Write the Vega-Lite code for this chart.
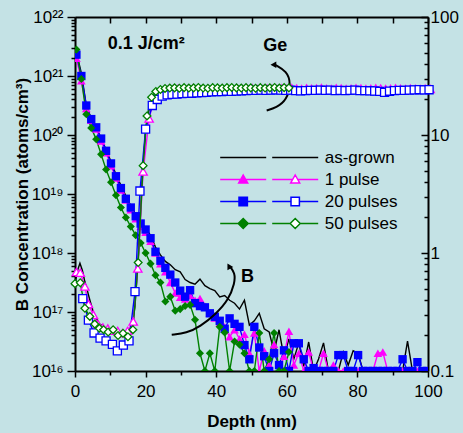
{
"$schema":"https://vega.github.io/schema/vega-lite/v6.json",
"width":353,"height":354,
"autosize":"none",
"padding":{"left":75,"top":17,"right":35,"bottom":62},
"background":"#c4e2e5",
"config":{"view":{"stroke":null},"font":"Liberation Sans",
"axis":{"labelFont":"Liberation Sans","titleFont":"Liberation Sans","labelColor":"black","titleColor":"black","domainColor":"black","tickColor":"black","domainWidth":2,"tickWidth":1.5,"grid":false,"labelFontSize":17,"titleFontSize":17,"labelOverlap":false,"labelFlush":false,"labelBound":false},
"legend":{"labelFont":"Liberation Sans","labelFontSize":17,"labelColor":"black"}},
"datasets":{
"B":[
{"s":"as-grown","d":0.4,"b":2.5e21},{"s":"as-grown","d":1.8,"b":1.12e21},{"s":"as-grown","d":3.2,"b":3.16e20},{"s":"as-grown","d":4.6,"b":1.9e20},{"s":"as-grown","d":6.0,"b":1.32e20},{"s":"as-grown","d":7.4,"b":8.9e19},{"s":"as-grown","d":8.8,"b":5.6e19},{"s":"as-grown","d":10.2,"b":3.55e19},{"s":"as-grown","d":11.6,"b":2.14e19},{"s":"as-grown","d":13.0,"b":1.41e19},{"s":"as-grown","d":14.4,"b":9.3e18},{"s":"as-grown","d":15.8,"b":6.3e18},{"s":"as-grown","d":17.2,"b":4.47e18},{"s":"as-grown","d":18.6,"b":3.3e18},{"s":"as-grown","d":20.0,"b":2.63e18},{"s":"as-grown","d":21.4,"b":2.0e18},{"s":"as-grown","d":22.8,"b":1.26e18},{"s":"as-grown","d":24.2,"b":9.3e17},{"s":"as-grown","d":25.6,"b":7.2e17},{"s":"as-grown","d":27.0,"b":6.3e17},{"s":"as-grown","d":28.4,"b":5.2e17},{"s":"as-grown","d":29.8,"b":4.8e17},{"s":"as-grown","d":31.2,"b":3.55e17},{"s":"as-grown","d":32.6,"b":3.16e17},{"s":"as-grown","d":34.0,"b":2.95e17},{"s":"as-grown","d":35.4,"b":3.6e17},{"s":"as-grown","d":36.8,"b":2.8e17},{"s":"as-grown","d":38.2,"b":2.5e17},{"s":"as-grown","d":39.6,"b":2.3e17},{"s":"as-grown","d":41.0,"b":1.8e17},{"s":"as-grown","d":42.4,"b":1.9e17},{"s":"as-grown","d":43.8,"b":1.58e17},{"s":"as-grown","d":45.2,"b":1.41e17},{"s":"as-grown","d":46.6,"b":1.12e17},{"s":"as-grown","d":48.0,"b":1.58e17},{"s":"as-grown","d":49.4,"b":6.0e16},{"s":"as-grown","d":50.8,"b":7.1e16},{"s":"as-grown","d":52.2,"b":9.5e16},{"s":"as-grown","d":53.6,"b":5.2e16},{"s":"as-grown","d":55.0,"b":4.6e16},{"s":"as-grown","d":56.4,"b":2.1e16},{"s":"as-grown","d":57.8,"b":5.0e16},{"s":"as-grown","d":59.2,"b":1.7e16},{"s":"as-grown","d":60.6,"b":3.5e16},{"s":"as-grown","d":62.0,"b":1.6e16},{"s":"as-grown","d":63.4,"b":3.0e16},{"s":"as-grown","d":64.8,"b":1.2e16},{"s":"as-grown","d":66.2,"b":3.1e16},{"s":"as-grown","d":67.6,"b":1e16},{"s":"as-grown","d":69.0,"b":1.6e16},{"s":"as-grown","d":70.4,"b":3.0e16},{"s":"as-grown","d":71.8,"b":1e16},{"s":"as-grown","d":73.2,"b":1e16},{"s":"as-grown","d":74.6,"b":1e16},{"s":"as-grown","d":76.0,"b":2.1e16},{"s":"as-grown","d":77.4,"b":1.26e16},{"s":"as-grown","d":78.8,"b":2.2e16},{"s":"as-grown","d":80.2,"b":2.0e16},{"s":"as-grown","d":81.6,"b":1e16},{"s":"as-grown","d":83.0,"b":1e16},{"s":"as-grown","d":84.4,"b":1e16},{"s":"as-grown","d":85.8,"b":1e16},{"s":"as-grown","d":87.2,"b":1e16},{"s":"as-grown","d":88.6,"b":1e16},{"s":"as-grown","d":90.0,"b":1e16},{"s":"as-grown","d":91.4,"b":1e16},{"s":"as-grown","d":92.8,"b":1e16},{"s":"as-grown","d":94.2,"b":3.2e16},{"s":"as-grown","d":95.6,"b":1e16},{"s":"as-grown","d":97.0,"b":1e16},{"s":"as-grown","d":98.4,"b":1e16},{"s":"as-grown","d":99.8,"b":1e16},
{"s":"1 pulse","d":0.4,"b":2.0e21},{"s":"1 pulse","d":1.8,"b":8.3e20},{"s":"1 pulse","d":3.2,"b":2.8e20},{"s":"1 pulse","d":4.6,"b":1.78e20},{"s":"1 pulse","d":6.0,"b":1.26e20},{"s":"1 pulse","d":7.4,"b":7.9e19},{"s":"1 pulse","d":8.8,"b":5.0e19},{"s":"1 pulse","d":10.2,"b":3.0e19},{"s":"1 pulse","d":11.6,"b":1.86e19},{"s":"1 pulse","d":13.0,"b":1.17e19},{"s":"1 pulse","d":14.4,"b":7.9e18},{"s":"1 pulse","d":15.8,"b":5.4e18},{"s":"1 pulse","d":17.2,"b":3.8e18},{"s":"1 pulse","d":18.6,"b":2.8e18},{"s":"1 pulse","d":20.0,"b":2.24e18},{"s":"1 pulse","d":21.4,"b":1.58e18},{"s":"1 pulse","d":22.8,"b":1.0e18},{"s":"1 pulse","d":24.2,"b":6.6e17},{"s":"1 pulse","d":25.6,"b":4.8e17},{"s":"1 pulse","d":27.0,"b":3.16e17},{"s":"1 pulse","d":28.4,"b":2.1e17},{"s":"1 pulse","d":29.8,"b":1.78e17},{"s":"1 pulse","d":31.2,"b":1.66e17},{"s":"1 pulse","d":32.6,"b":1.9e17},{"s":"1 pulse","d":34.0,"b":1.58e17},{"s":"1 pulse","d":35.4,"b":1.7e17},{"s":"1 pulse","d":36.8,"b":1.26e17},{"s":"1 pulse","d":38.2,"b":9.5e16},{"s":"1 pulse","d":39.6,"b":7.9e16},{"s":"1 pulse","d":41.0,"b":6.5e16},{"s":"1 pulse","d":42.4,"b":5.6e16},{"s":"1 pulse","d":43.8,"b":3.8e16},{"s":"1 pulse","d":45.2,"b":5.0e16},{"s":"1 pulse","d":46.6,"b":3.5e16},{"s":"1 pulse","d":48.0,"b":4.2e16},{"s":"1 pulse","d":49.4,"b":2.0e16},{"s":"1 pulse","d":50.8,"b":4.4e16},{"s":"1 pulse","d":52.2,"b":1e16},{"s":"1 pulse","d":53.6,"b":2.2e16},{"s":"1 pulse","d":55.0,"b":1.26e16},{"s":"1 pulse","d":56.4,"b":2.8e16},{"s":"1 pulse","d":57.8,"b":1e16},{"s":"1 pulse","d":59.2,"b":1.78e16},{"s":"1 pulse","d":60.6,"b":4.7e16},{"s":"1 pulse","d":62.0,"b":1.26e16},{"s":"1 pulse","d":63.4,"b":2.0e16},{"s":"1 pulse","d":64.8,"b":1e16},{"s":"1 pulse","d":66.2,"b":2.1e16},{"s":"1 pulse","d":67.6,"b":1e16},{"s":"1 pulse","d":69.0,"b":1e16},{"s":"1 pulse","d":70.4,"b":2.0e16},{"s":"1 pulse","d":71.8,"b":1e16},{"s":"1 pulse","d":73.2,"b":1.26e16},{"s":"1 pulse","d":74.6,"b":1e16},{"s":"1 pulse","d":76.0,"b":1e16},{"s":"1 pulse","d":77.4,"b":1e16},{"s":"1 pulse","d":78.8,"b":1e16},{"s":"1 pulse","d":80.2,"b":1e16},{"s":"1 pulse","d":81.6,"b":1e16},{"s":"1 pulse","d":83.0,"b":1e16},{"s":"1 pulse","d":84.4,"b":1e16},{"s":"1 pulse","d":85.8,"b":2.0e16},{"s":"1 pulse","d":87.2,"b":2.1e16},{"s":"1 pulse","d":88.6,"b":1e16},{"s":"1 pulse","d":90.0,"b":1e16},{"s":"1 pulse","d":91.4,"b":1e16},{"s":"1 pulse","d":92.8,"b":1e16},{"s":"1 pulse","d":94.2,"b":1e16},{"s":"1 pulse","d":95.6,"b":1e16},{"s":"1 pulse","d":97.0,"b":1e16},{"s":"1 pulse","d":98.4,"b":1e16},{"s":"1 pulse","d":99.8,"b":1e16},
{"s":"20 pulses","d":0.4,"b":2.3e21},{"s":"20 pulses","d":1.8,"b":1.0e21},{"s":"20 pulses","d":3.2,"b":3.16e20},{"s":"20 pulses","d":4.6,"b":1.86e20},{"s":"20 pulses","d":6.0,"b":1.35e20},{"s":"20 pulses","d":7.4,"b":8.7e19},{"s":"20 pulses","d":8.8,"b":5.4e19},{"s":"20 pulses","d":10.2,"b":3.3e19},{"s":"20 pulses","d":11.6,"b":2.0e19},{"s":"20 pulses","d":13.0,"b":1.26e19},{"s":"20 pulses","d":14.4,"b":8.3e18},{"s":"20 pulses","d":15.8,"b":5.9e18},{"s":"20 pulses","d":17.2,"b":4.2e18},{"s":"20 pulses","d":18.6,"b":3.16e18},{"s":"20 pulses","d":20.0,"b":2.5e18},{"s":"20 pulses","d":21.4,"b":1.78e18},{"s":"20 pulses","d":22.8,"b":1.05e18},{"s":"20 pulses","d":24.2,"b":7.4e17},{"s":"20 pulses","d":25.6,"b":5.6e17},{"s":"20 pulses","d":27.0,"b":4.3e17},{"s":"20 pulses","d":28.4,"b":3.16e17},{"s":"20 pulses","d":29.8,"b":2.3e17},{"s":"20 pulses","d":31.2,"b":1.82e17},{"s":"20 pulses","d":32.6,"b":2.34e17},{"s":"20 pulses","d":34.0,"b":1.41e17},{"s":"20 pulses","d":35.4,"b":1.26e17},{"s":"20 pulses","d":36.8,"b":1.2e17},{"s":"20 pulses","d":38.2,"b":9.5e16},{"s":"20 pulses","d":39.6,"b":8.3e16},{"s":"20 pulses","d":41.0,"b":7.1e16},{"s":"20 pulses","d":42.4,"b":5.2e16},{"s":"20 pulses","d":43.8,"b":7.8e16},{"s":"20 pulses","d":45.2,"b":6.3e16},{"s":"20 pulses","d":46.6,"b":5.6e16},{"s":"20 pulses","d":48.0,"b":2.75e16},{"s":"20 pulses","d":49.4,"b":1.58e16},{"s":"20 pulses","d":50.8,"b":5.6e16},{"s":"20 pulses","d":52.2,"b":2.5e16},{"s":"20 pulses","d":53.6,"b":1.78e16},{"s":"20 pulses","d":55.0,"b":1e16},{"s":"20 pulses","d":56.4,"b":2.0e16},{"s":"20 pulses","d":57.8,"b":1.26e16},{"s":"20 pulses","d":59.2,"b":2.24e16},{"s":"20 pulses","d":60.6,"b":1e16},{"s":"20 pulses","d":62.0,"b":2.95e16},{"s":"20 pulses","d":63.4,"b":2.95e16},{"s":"20 pulses","d":64.8,"b":1.58e16},{"s":"20 pulses","d":66.2,"b":1e16},{"s":"20 pulses","d":67.6,"b":1.12e16},{"s":"20 pulses","d":69.0,"b":1e16},{"s":"20 pulses","d":70.4,"b":1e16},{"s":"20 pulses","d":71.8,"b":1e16},{"s":"20 pulses","d":73.2,"b":1e16},{"s":"20 pulses","d":74.6,"b":1.86e16},{"s":"20 pulses","d":76.0,"b":1.86e16},{"s":"20 pulses","d":77.4,"b":1e16},{"s":"20 pulses","d":78.8,"b":1e16},{"s":"20 pulses","d":80.2,"b":1.86e16},{"s":"20 pulses","d":81.6,"b":1e16},{"s":"20 pulses","d":83.0,"b":1e16},{"s":"20 pulses","d":84.4,"b":1e16},{"s":"20 pulses","d":85.8,"b":1e16},{"s":"20 pulses","d":87.2,"b":1e16},{"s":"20 pulses","d":88.6,"b":1e16},{"s":"20 pulses","d":90.0,"b":1e16},{"s":"20 pulses","d":91.4,"b":1e16},{"s":"20 pulses","d":92.8,"b":1.58e16},{"s":"20 pulses","d":94.2,"b":1e16},{"s":"20 pulses","d":95.6,"b":1e16},{"s":"20 pulses","d":97.0,"b":1.41e16},{"s":"20 pulses","d":98.4,"b":1e16},{"s":"20 pulses","d":99.8,"b":1e16},
{"s":"50 pulses","d":0.4,"b":2.8e21},{"s":"50 pulses","d":1.8,"b":8.9e20},{"s":"50 pulses","d":3.2,"b":2.24e20},{"s":"50 pulses","d":4.6,"b":1.32e20},{"s":"50 pulses","d":6.0,"b":8.5e19},{"s":"50 pulses","d":7.4,"b":4.7e19},{"s":"50 pulses","d":8.8,"b":2.6e19},{"s":"50 pulses","d":10.2,"b":1.58e19},{"s":"50 pulses","d":11.6,"b":9.5e18},{"s":"50 pulses","d":13.0,"b":5.9e18},{"s":"50 pulses","d":14.4,"b":4.0e18},{"s":"50 pulses","d":15.8,"b":2.8e18},{"s":"50 pulses","d":17.2,"b":2.0e18},{"s":"50 pulses","d":18.6,"b":1.48e18},{"s":"50 pulses","d":20.0,"b":1.0e18},{"s":"50 pulses","d":21.4,"b":6.6e17},{"s":"50 pulses","d":22.8,"b":4.2e17},{"s":"50 pulses","d":24.2,"b":3.16e17},{"s":"50 pulses","d":25.6,"b":1.51e17},{"s":"50 pulses","d":27.0,"b":1.82e17},{"s":"50 pulses","d":28.4,"b":1.05e17},{"s":"50 pulses","d":29.8,"b":1.12e17},{"s":"50 pulses","d":31.2,"b":1.26e17},{"s":"50 pulses","d":32.6,"b":1.32e17},{"s":"50 pulses","d":34.0,"b":7.4e16},{"s":"50 pulses","d":35.4,"b":2.0e16},{"s":"50 pulses","d":36.8,"b":1e16},{"s":"50 pulses","d":38.2,"b":2.0e16},{"s":"50 pulses","d":39.6,"b":1e16},{"s":"50 pulses","d":41.0,"b":5.6e16},{"s":"50 pulses","d":42.4,"b":4.5e16},{"s":"50 pulses","d":43.8,"b":1e16},{"s":"50 pulses","d":45.2,"b":3.16e16},{"s":"50 pulses","d":46.6,"b":2.8e16},{"s":"50 pulses","d":48.0,"b":2.0e16},{"s":"50 pulses","d":49.4,"b":1e16},{"s":"50 pulses","d":50.8,"b":1e16},{"s":"50 pulses","d":52.2,"b":4.4e16},{"s":"50 pulses","d":53.6,"b":1e16},{"s":"50 pulses","d":55.0,"b":1.58e16},{"s":"50 pulses","d":56.4,"b":4.4e16},{"s":"50 pulses","d":57.8,"b":1e16},{"s":"50 pulses","d":59.2,"b":1e16},{"s":"50 pulses","d":60.6,"b":2.1e16}
],
"G":[
{"s":"as-grown","d":0,"g":0.55},{"s":"as-grown","d":0.7,"g":0.71},{"s":"as-grown","d":1.4,"g":0.82},{"s":"as-grown","d":2.1,"g":0.71},{"s":"as-grown","d":2.8,"g":0.57},{"s":"as-grown","d":3.5,"g":0.48},{"s":"as-grown","d":4.2,"g":0.40},{"s":"as-grown","d":5.0,"g":0.33},{"s":"as-grown","d":5.7,"g":0.29},{"s":"as-grown","d":7.0,"g":0.25},{"s":"as-grown","d":8.5,"g":0.234},{"s":"as-grown","d":10,"g":0.224},{"s":"as-grown","d":11.5,"g":0.219},{"s":"as-grown","d":13,"g":0.214},{"s":"as-grown","d":14.5,"g":0.214},{"s":"as-grown","d":16,"g":0.219},{"s":"as-grown","d":17,"g":0.355},{"s":"as-grown","d":18,"g":1.0},{"s":"as-grown","d":19,"g":3.98},{"s":"as-grown","d":20,"g":11.2},{"s":"as-grown","d":21,"g":16.6},{"s":"as-grown","d":22,"g":20},{"s":"as-grown","d":23,"g":22.4},{"s":"as-grown","d":25,"g":24},{"s":"as-grown","d":30,"g":24.3},{"s":"as-grown","d":40,"g":24.6},{"s":"as-grown","d":50,"g":24.4},{"s":"as-grown","d":60,"g":24.5},{"s":"as-grown","d":70,"g":24.3},{"s":"as-grown","d":80,"g":24.5},{"s":"as-grown","d":90,"g":24.4},{"s":"as-grown","d":100,"g":24.5},
{"s":"1 pulse","d":0.4,"g":0.69},{"s":"1 pulse","d":1.5,"g":0.68},{"s":"1 pulse","d":2.8,"g":0.52},{"s":"1 pulse","d":3.8,"g":0.37},{"s":"1 pulse","d":5.2,"g":0.30},{"s":"1 pulse","d":6.5,"g":0.25},{"s":"1 pulse","d":7.9,"g":0.234},{"s":"1 pulse","d":9.3,"g":0.229},{"s":"1 pulse","d":10.7,"g":0.219},{"s":"1 pulse","d":12.1,"g":0.219},{"s":"1 pulse","d":13.5,"g":0.209},{"s":"1 pulse","d":14.9,"g":0.219},{"s":"1 pulse","d":16.5,"g":0.263},{"s":"1 pulse","d":17.8,"g":0.74},{"s":"1 pulse","d":19.3,"g":4.9},{"s":"1 pulse","d":21.0,"g":13.8},{"s":"1 pulse","d":22.3,"g":20},{"s":"1 pulse","d":23.7,"g":22.9},{"s":"1 pulse","d":25.1,"g":24.0},
{"s":"1 pulse","d":26.4,"g":24.3},{"s":"1 pulse","d":27.8,"g":24.5},{"s":"1 pulse","d":29.2,"g":24.7},{"s":"1 pulse","d":30.6,"g":24.4},{"s":"1 pulse","d":32.0,"g":24.6},{"s":"1 pulse","d":33.4,"g":24.8},{"s":"1 pulse","d":34.8,"g":24.5},{"s":"1 pulse","d":36.2,"g":24.4},{"s":"1 pulse","d":37.6,"g":24.7},{"s":"1 pulse","d":39.0,"g":24.6},{"s":"1 pulse","d":40.4,"g":24.5},{"s":"1 pulse","d":41.8,"g":24.8},{"s":"1 pulse","d":43.2,"g":24.6},{"s":"1 pulse","d":44.6,"g":24.4},{"s":"1 pulse","d":46.0,"g":24.7},{"s":"1 pulse","d":47.4,"g":24.5},{"s":"1 pulse","d":48.8,"g":24.6},{"s":"1 pulse","d":50.2,"g":24.8},{"s":"1 pulse","d":51.6,"g":24.5},{"s":"1 pulse","d":53.0,"g":24.4},{"s":"1 pulse","d":54.4,"g":24.7},{"s":"1 pulse","d":55.8,"g":24.6},{"s":"1 pulse","d":57.2,"g":24.5},{"s":"1 pulse","d":58.6,"g":24.8},{"s":"1 pulse","d":60.0,"g":24.6},{"s":"1 pulse","d":61.4,"g":24.9},{"s":"1 pulse","d":62.8,"g":24.7},{"s":"1 pulse","d":64.2,"g":24.5},{"s":"1 pulse","d":65.6,"g":24.8},{"s":"1 pulse","d":67.0,"g":24.6},{"s":"1 pulse","d":68.4,"g":24.7},{"s":"1 pulse","d":69.8,"g":24.9},{"s":"1 pulse","d":71.2,"g":24.6},{"s":"1 pulse","d":72.6,"g":24.5},{"s":"1 pulse","d":74.0,"g":24.8},{"s":"1 pulse","d":75.4,"g":24.7},{"s":"1 pulse","d":76.8,"g":24.5},{"s":"1 pulse","d":78.2,"g":24.6},{"s":"1 pulse","d":79.6,"g":24.8},{"s":"1 pulse","d":81.0,"g":24.7},{"s":"1 pulse","d":82.4,"g":24.5},{"s":"1 pulse","d":83.8,"g":24.6},{"s":"1 pulse","d":85.2,"g":24.8},{"s":"1 pulse","d":86.6,"g":24.7},{"s":"1 pulse","d":88.0,"g":24.5},{"s":"1 pulse","d":89.4,"g":24.6},{"s":"1 pulse","d":90.8,"g":24.8},{"s":"1 pulse","d":92.2,"g":24.6},{"s":"1 pulse","d":93.6,"g":24.5},{"s":"1 pulse","d":95.0,"g":24.7},{"s":"1 pulse","d":96.4,"g":24.6},{"s":"1 pulse","d":97.8,"g":24.5},{"s":"1 pulse","d":99.2,"g":24.7},{"s":"1 pulse","d":100.6,"g":24.6},
{"s":"20 pulses","d":2.2,"g":0.41},{"s":"20 pulses","d":3.8,"g":0.27},{"s":"20 pulses","d":5.4,"g":0.21},{"s":"20 pulses","d":7.1,"g":0.19},{"s":"20 pulses","d":8.8,"g":0.18},{"s":"20 pulses","d":10.6,"g":0.168},{"s":"20 pulses","d":12.0,"g":0.148},{"s":"20 pulses","d":13.7,"g":0.166},{"s":"20 pulses","d":15.3,"g":0.18},{"s":"20 pulses","d":17.0,"g":0.47},{"s":"20 pulses","d":18.4,"g":3.35},{"s":"20 pulses","d":20.0,"g":11.2},{"s":"20 pulses","d":21.9,"g":17.8},{"s":"20 pulses","d":23.3,"g":20},{"s":"20 pulses","d":24.7,"g":21.4},{"s":"20 pulses","d":26.1,"g":21.9},{"s":"20 pulses","d":27.5,"g":22.1},
{"s":"20 pulses","d":28.9,"g":22.2},{"s":"20 pulses","d":30.3,"g":22.4},{"s":"20 pulses","d":31.7,"g":22.5},{"s":"20 pulses","d":33.1,"g":22.6},{"s":"20 pulses","d":34.5,"g":22.8},{"s":"20 pulses","d":35.9,"g":22.9},{"s":"20 pulses","d":37.3,"g":23.0},{"s":"20 pulses","d":38.7,"g":23.2},{"s":"20 pulses","d":40.1,"g":23.3},{"s":"20 pulses","d":41.5,"g":23.3},{"s":"20 pulses","d":42.9,"g":23.5},{"s":"20 pulses","d":44.3,"g":23.4},{"s":"20 pulses","d":45.7,"g":23.6},{"s":"20 pulses","d":47.1,"g":23.7},{"s":"20 pulses","d":48.5,"g":23.8},{"s":"20 pulses","d":49.9,"g":23.9},{"s":"20 pulses","d":51.3,"g":23.9},{"s":"20 pulses","d":52.7,"g":24.0},{"s":"20 pulses","d":54.1,"g":23.9},{"s":"20 pulses","d":55.5,"g":24.0},{"s":"20 pulses","d":56.9,"g":24.1},{"s":"20 pulses","d":58.3,"g":24.0},{"s":"20 pulses","d":59.7,"g":23.9},{"s":"20 pulses","d":61.1,"g":24.0},{"s":"20 pulses","d":62.5,"g":23.8},{"s":"20 pulses","d":63.9,"g":23.7},{"s":"20 pulses","d":65.3,"g":23.8},{"s":"20 pulses","d":66.7,"g":23.9},{"s":"20 pulses","d":68.1,"g":23.9},{"s":"20 pulses","d":69.5,"g":24.0},{"s":"20 pulses","d":70.9,"g":23.9},{"s":"20 pulses","d":72.3,"g":24.0},{"s":"20 pulses","d":73.7,"g":23.8},{"s":"20 pulses","d":75.1,"g":23.9},{"s":"20 pulses","d":76.5,"g":23.8},{"s":"20 pulses","d":77.9,"g":23.9},{"s":"20 pulses","d":79.3,"g":24.0},{"s":"20 pulses","d":80.7,"g":23.8},{"s":"20 pulses","d":82.1,"g":23.8},{"s":"20 pulses","d":83.5,"g":23.7},{"s":"20 pulses","d":84.9,"g":23.6},{"s":"20 pulses","d":86.3,"g":23.4},{"s":"20 pulses","d":87.7,"g":23.0},{"s":"20 pulses","d":89.1,"g":23.5},{"s":"20 pulses","d":90.5,"g":23.8},{"s":"20 pulses","d":91.9,"g":23.9},{"s":"20 pulses","d":93.3,"g":23.9},{"s":"20 pulses","d":94.7,"g":24.0},{"s":"20 pulses","d":96.1,"g":24.1},{"s":"20 pulses","d":97.5,"g":24.2},{"s":"20 pulses","d":98.9,"g":24.1},{"s":"20 pulses","d":100.3,"g":24.2},
{"s":"50 pulses","d":0.0,"g":0.55},{"s":"50 pulses","d":1.5,"g":0.56},{"s":"50 pulses","d":2.8,"g":0.34},{"s":"50 pulses","d":4.2,"g":0.29},{"s":"50 pulses","d":5.6,"g":0.25},{"s":"50 pulses","d":6.9,"g":0.23},{"s":"50 pulses","d":8.1,"g":0.224},{"s":"50 pulses","d":9.4,"g":0.214},{"s":"50 pulses","d":10.8,"g":0.224},{"s":"50 pulses","d":12.2,"g":0.2},{"s":"50 pulses","d":13.6,"g":0.209},{"s":"50 pulses","d":15.0,"g":0.195},{"s":"50 pulses","d":16.4,"g":0.224},{"s":"50 pulses","d":17.9,"g":0.83},{"s":"50 pulses","d":19.3,"g":5.5},{"s":"50 pulses","d":20.4,"g":14.5},{"s":"50 pulses","d":21.7,"g":20.9},{"s":"50 pulses","d":22.9,"g":23.4},{"s":"50 pulses","d":24.2,"g":24.3},
{"s":"50 pulses","d":25.5,"g":24.8},{"s":"50 pulses","d":26.85,"g":25.0},{"s":"50 pulses","d":28.2,"g":25.1},{"s":"50 pulses","d":29.55,"g":24.9},{"s":"50 pulses","d":30.9,"g":25.2},{"s":"50 pulses","d":32.25,"g":25.0},{"s":"50 pulses","d":33.6,"g":25.1},{"s":"50 pulses","d":34.95,"g":25.3},{"s":"50 pulses","d":36.3,"g":25.0},{"s":"50 pulses","d":37.65,"g":24.9},{"s":"50 pulses","d":39.0,"g":25.2},{"s":"50 pulses","d":40.35,"g":25.1},{"s":"50 pulses","d":41.7,"g":25.0},{"s":"50 pulses","d":43.05,"g":25.2},{"s":"50 pulses","d":44.4,"g":25.3},{"s":"50 pulses","d":45.75,"g":25.1},{"s":"50 pulses","d":47.1,"g":25.0},{"s":"50 pulses","d":48.45,"g":25.2},{"s":"50 pulses","d":49.8,"g":25.1},{"s":"50 pulses","d":51.15,"g":24.9},{"s":"50 pulses","d":52.5,"g":25.2},{"s":"50 pulses","d":53.85,"g":25.0},{"s":"50 pulses","d":55.2,"g":25.1},{"s":"50 pulses","d":56.55,"g":25.3},{"s":"50 pulses","d":57.9,"g":25.0},{"s":"50 pulses","d":59.25,"g":25.2},{"s":"50 pulses","d":60.6,"g":25.1}
],
"arrows":[
{"a":"B","o":1,"d":27.4,"b":4.1e16},{"a":"B","o":2,"d":31.6,"b":4.4e16},{"a":"B","o":3,"d":35.4,"b":5.6e16},{"a":"B","o":4,"d":40.1,"b":9.5e16},{"a":"B","o":5,"d":43.4,"b":1.58e17},{"a":"B","o":6,"d":45.3,"b":3.1e17},{"a":"B","o":7,"d":45.3,"b":4.6e17},{"a":"B","o":8,"d":43.9,"b":5.9e17},
{"a":"Ge","o":1,"d":56.7,"b":1.55e21},{"a":"Ge","o":2,"d":60.0,"b":1.2e21},{"a":"Ge","o":3,"d":61.2,"b":7.6e20},{"a":"Ge","o":4,"d":60.0,"b":3.9e20},{"a":"Ge","o":5,"d":57.0,"b":2.9e20},{"a":"Ge","o":6,"d":54.3,"b":2.6e20}
],
"heads":[{"a":"B","d":43.6,"b":6.0e17},{"a":"Ge","d":56.2,"b":1.55e21}],
"notes":[{"t":"0.1 J/cm²","d":20.2,"b":3.46e21},{"t":"Ge","d":56.7,"b":3.2e21},{"t":"B","d":48.9,"b":3.85e17}]
},
"layer":[
{
"encoding":{
"x":{"field":"d","type":"quantitative","scale":{"domain":[0,100],"nice":false,"zero":false},
"axis":{"orient":"bottom","values":[0,10,20,30,40,50,60,70,80,90,100],"labelExpr":"datum.value % 20 == 0 ? datum.label : ''","tickSize":{"condition":{"test":"datum.value % 20 == 0","value":6},"value":4},"labelPadding":6,"title":"Depth (nm)","titleFontWeight":"bold","titlePadding":14}},
"y":{"field":"b","type":"quantitative","scale":{"type":"log","domain":[1e16,1e22],"nice":false},
"axis":{"orient":"left","values":[1e16,2e16,3e16,4e16,5e16,6e16,7e16,8e16,9e16,1e17,2e17,3e17,4e17,5e17,6e17,7e17,8e17,9e17,1e18,2e18,3e18,4e18,5e18,6e18,7e18,8e18,9e18,1e19,2e19,3e19,4e19,5e19,6e19,7e19,8e19,9e19,1e20,2e20,3e20,4e20,5e20,6e20,7e20,8e20,9e20,1e21,2e21,3e21,4e21,5e21,6e21,7e21,8e21,9e21,1e22],
"labelExpr":"abs(log(datum.value)/LN10-round(log(datum.value)/LN10))<0.001 ? '10'+['⁰','¹','²','³','⁴','⁵','⁶','⁷','⁸','⁹'][floor(round(log(datum.value)/LN10)/10)]+['⁰','¹','²','³','⁴','⁵','⁶','⁷','⁸','⁹'][round(log(datum.value)/LN10)%10] : ''",
"tickSize":{"condition":{"test":"abs(log(datum.value)/LN10-round(log(datum.value)/LN10))<0.001","value":8},"value":4},"labelPadding":4,
"title":"B Concentration (atoms/cm³)","titleFontWeight":"bold","titlePadding":0}}
},
"layer":[
{"data":{"name":"B"},"mark":{"type":"line","strokeWidth":1.4,"clip":true},
"encoding":{"color":{"field":"s","type":"nominal","scale":{"domain":["as-grown","1 pulse","20 pulses","50 pulses"],"range":["#000000","#ff00ff","#0000ff","#008000"]},
"legend":{"orient":"none","legendX":159.7,"legendY":132,"title":null,"direction":"vertical","symbolSize":100,"labelOffset":21,"labelExpr":"' '","rowPadding":4,"padding":0,
"encode":{"symbols":{"update":{"shape":{"signal":"datum.value=='1 pulse'?'M-4.6,0H-0.5M0.5,0H4.6M0,-0.9L0.9,0.7L-0.9,0.7Z':datum.value=='20 pulses'?'M-4.6,0H-0.84M0.84,0H4.6M-0.84,-0.84H0.84V0.84H-0.84Z':datum.value=='50 pulses'?'M-4.6,0H-1M1,0H4.6M0,-1L1,0L0,1L-1,0Z':'M-4.6,0H4.6'"},"fill":{"signal":"datum.value=='1 pulse'?'#ff00ff':datum.value=='20 pulses'?'#0000ff':datum.value=='50 pulses'?'#008000':'#000000'"},"stroke":{"signal":"datum.value=='1 pulse'?'#ff00ff':datum.value=='20 pulses'?'#0000ff':datum.value=='50 pulses'?'#008000':'#000000'"},"strokeWidth":{"value":1.5},"opacity":{"value":1},"fillOpacity":{"value":1},"strokeDash":{"value":[]},"size":{"value":100}}}}}}}},
{"data":{"name":"B"},"transform":[{"filter":"datum.s != 'as-grown'"}],"mark":{"type":"point","filled":true,"opacity":1,"clip":true},
"encoding":{"color":{"field":"s","type":"nominal","scale":{"domain":["as-grown","1 pulse","20 pulses","50 pulses"],"range":["#000000","#ff00ff","#0000ff","#008000"]}},
"shape":{"field":"s","type":"nominal","scale":{"domain":["1 pulse","20 pulses","50 pulses"],"range":["triangle-up","square","diamond"]},"legend":null},
"size":{"field":"s","type":"nominal","scale":{"domain":["1 pulse","20 pulses","50 pulses"],"range":[75,65,95]},"legend":null}}},
{"data":{"name":"arrows"},"mark":{"type":"line","interpolate":"basis","color":"black","strokeWidth":2},"encoding":{"detail":{"field":"a"},"order":{"field":"o","type":"quantitative"}}},
{"data":{"name":"heads"},"transform":[{"filter":"datum.a=='B'"}],"mark":{"type":"point","shape":"triangle-up","angle":-30,"filled":true,"color":"black","opacity":1,"size":45},"encoding":{}},
{"data":{"name":"heads"},"transform":[{"filter":"datum.a=='Ge'"}],"mark":{"type":"point","shape":"triangle-left","filled":true,"color":"black","opacity":1,"size":45},"encoding":{}},
{"data":{"name":"notes"},"mark":{"type":"text","font":"Liberation Sans","fontSize":18,"fontWeight":"bold","color":"black","align":"center","baseline":"middle"},"encoding":{"text":{"field":"t"}}}
]
},
{
"data":{"name":"G"},
"encoding":{
"x":{"field":"d","type":"quantitative","scale":{"domain":[0,100],"nice":false,"zero":false},
"axis":{"orient":"top","values":[0,10,20,30,40,50,60,70,80,90,100],"labels":false,"tickSize":-6,"title":null}},
"y":{"field":"g","type":"quantitative","scale":{"type":"log","domain":[0.1,100],"nice":false},
"axis":{"orient":"right","values":[0.1,0.2,0.3,0.4,0.5,0.6,0.7,0.8,0.9,1,2,3,4,5,6,7,8,9,10,20,30,40,50,60,70,80,90,100],
"labelExpr":"abs(log(datum.value)/LN10-round(log(datum.value)/LN10))<0.001 ? format(datum.value,'~g') : ''",
"tickSize":{"condition":{"test":"abs(log(datum.value)/LN10-round(log(datum.value)/LN10))<0.001","value":-7},"value":-4},"labelPadding":9,"title":null}}
},
"layer":[
{"mark":{"type":"line","strokeWidth":1.4,"clip":false},
"encoding":{"color":{"field":"s","type":"nominal","scale":{"domain":["as-grown","1 pulse","20 pulses","50 pulses"],"range":["#000000","#ff00ff","#0000ff","#008000"]},
"legend":{"orient":"none","legendX":211.7,"legendY":132,"title":null,"direction":"vertical","symbolSize":100,"labelOffset":21,"rowPadding":4,"padding":0,
"encode":{"symbols":{"update":{"shape":{"signal":"datum.value=='1 pulse'?'M-4.6,0H-0.5M0.5,0H4.6M0,-0.9L0.9,0.7L-0.9,0.7Z':datum.value=='20 pulses'?'M-4.6,0H-0.84M0.84,0H4.6M-0.84,-0.84H0.84V0.84H-0.84Z':datum.value=='50 pulses'?'M-4.6,0H-1M1,0H4.6M0,-1L1,0L0,1L-1,0Z':'M-4.6,0H4.6'"},"fill":{"value":"#ffffff"},"stroke":{"signal":"datum.value=='1 pulse'?'#ff00ff':datum.value=='20 pulses'?'#0000ff':datum.value=='50 pulses'?'#008000':'#000000'"},"strokeWidth":{"value":1.5},"opacity":{"value":1},"fillOpacity":{"value":1},"strokeDash":{"value":[]},"size":{"value":100}}}}}}}},
{"transform":[{"filter":"datum.s != 'as-grown'"}],"mark":{"type":"point","filled":false,"fill":"white","fillOpacity":1,"strokeWidth":1.3,"opacity":1,"clip":false},
"encoding":{"color":{"field":"s","type":"nominal","scale":{"domain":["as-grown","1 pulse","20 pulses","50 pulses"],"range":["#000000","#ff00ff","#0000ff","#008000"]}},
"shape":{"field":"s","type":"nominal","scale":{"domain":["1 pulse","20 pulses","50 pulses"],"range":["triangle-up","square","diamond"]},"legend":null},
"size":{"field":"s","type":"nominal","scale":{"domain":["1 pulse","20 pulses","50 pulses"],"range":[70,60,85]},"legend":null}}}
]
}
],
"resolve":{"scale":{"y":"independent","color":"independent","shape":"independent","size":"independent"},"axis":{"x":"independent"}}
}
